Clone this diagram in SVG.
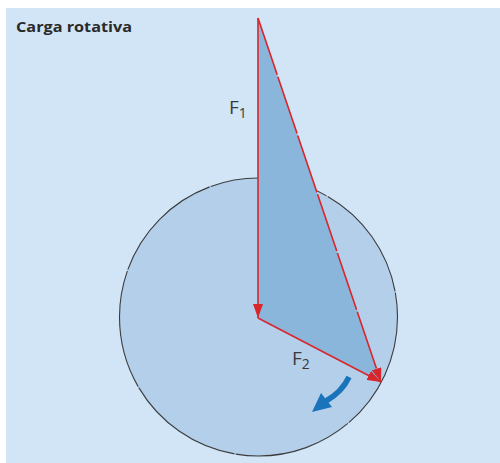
<svg xmlns="http://www.w3.org/2000/svg" width="500" height="463" viewBox="0 0 500 463">
<defs>
<style>
.lbl{font-family:"Open Sans","Liberation Sans",sans-serif;fill:#3a3a3a}
.red{stroke:#d9262b;stroke-width:1.6;fill:none}
</style>
<marker id="ah" viewBox="0 0 14 10" refX="14" refY="5" markerWidth="14" markerHeight="10" markerUnits="userSpaceOnUse" orient="auto">
<path d="M0,0 L14,5 L0,10 Z" fill="#d9262b"/>
</marker>
</defs>
<rect width="500" height="463" fill="#ffffff"/>
<rect x="6" y="8" width="494" height="455" fill="#d1e5f7"/>
<text x="16" y="32" class="lbl" font-size="15" font-weight="bold" style="fill:#2a2a2a" textLength="116" lengthAdjust="spacingAndGlyphs">Carga rotativa</text>
<g id="circle">
<circle cx="258.5" cy="317" r="139" fill="#b3cfe9" stroke="#3c3c3c" stroke-width="1.1" stroke-dasharray="120 1.2"/>
</g>
<g id="triangle">
<path d="M258,18 L258,318 L381,382 Z" fill="#8ab6dc"/>
</g>
<g id="connectors">
<line id="F1" x1="258" y1="18" x2="258" y2="318" class="red" marker-end="url(#ah)"/>
<line id="F2" x1="258" y1="318" x2="381" y2="382" class="red" marker-end="url(#ah)"/>
<line id="R" x1="258" y1="18" x2="381" y2="382" class="red" stroke-dasharray="60 2" marker-end="url(#ah)"/>
<path id="rot" d="M349,377 Q342,392 326,401" stroke="#1a74bc" stroke-width="5.5" fill="none"/>
<path d="M312,412 L321,393 L332,407 Z" fill="#1a74bc"/>
</g>
<g id="labelF1">
<text x="229" y="114" class="lbl" font-size="19">F<tspan font-size="14" dy="4">1</tspan></text>
</g>
<g id="labelF2">
<text x="292" y="365" class="lbl" font-size="19">F<tspan font-size="14" dy="4">2</tspan></text>
</g>
</svg>
